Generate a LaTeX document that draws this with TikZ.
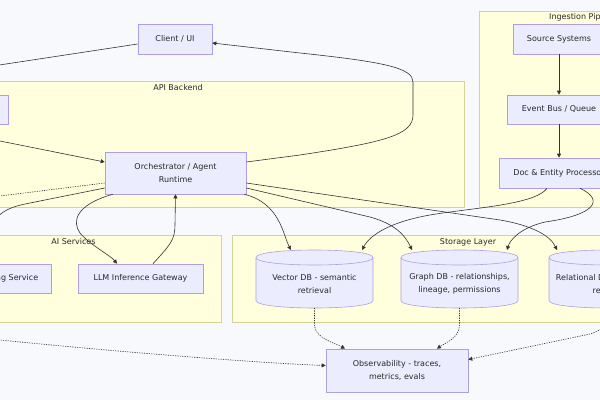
\documentclass[tikz,border=0pt]{standalone}
\usepackage{fontspec}
\setmainfont{DejaVu Sans}
\usetikzlibrary{arrows.meta,calc}
\definecolor{bg}{RGB}{248,249,252}
\definecolor{clfill}{RGB}{255,255,222}
\definecolor{clline}{RGB}{212,212,150}
\definecolor{ndfill}{RGB}{236,236,255}
\definecolor{ndline}{RGB}{175,158,228}
\definecolor{ln}{RGB}{51,51,51}
\definecolor{tx}{RGB}{40,40,40}
\newcommand\mycyl[4]{%
  \draw[cylbody] (#1,#3+7.5) -- (#1,#4-7.5) .. controls (#1,#4+2.5) and (#2,#4+2.5) .. (#2,#4-7.5)
    -- (#2,#3+7.5) .. controls (#2,#3-2.5) and (#1,#3-2.5) .. (#1,#3+7.5) -- cycle;
  \draw[cylrim] (#1,#3+7.5) .. controls (#1,#3+17.5) and (#2,#3+17.5) .. (#2,#3+7.5);}
\begin{document}
\begin{tikzpicture}[x=1pt,y=-1pt,
  cluster/.style={fill=clfill,draw=clline,line width=0.6pt},
  cllabel/.style={text=tx,font=\fontsize{8}{10}\selectfont,inner sep=0pt},
  box/.style={rectangle,fill=ndfill,draw=ndline,line width=0.6pt,text=tx,align=center,
    font=\fontsize{8}{13}\selectfont,inner sep=0pt},
  cyltext/.style={text=tx,align=center,font=\fontsize{8}{13}\selectfont,inner sep=0pt},
  cylbody/.style={fill=ndfill,draw=ndline,line width=0.6pt},
  cylrim/.style={draw=ndline,line width=0.6pt},
  conn/.style={draw=ln,line width=0.6pt,-{Triangle[length=4pt,width=4pt]}},
  dotconn/.style={conn,dash pattern=on 1.2pt off 1.2pt}]
\useasboundingbox (0,0) rectangle (600,400);
\fill[bg] (0,0) rectangle (600,400);
\clip (0,0) rectangle (600,400);
% clusters
\draw[cluster] (-110,81) rectangle (464,207);
\draw[cluster] (479,11) rectangle (690,207);
\draw[cluster] (-80,235) rectangle (221,322);
\draw[cluster] (232,235) rectangle (720,322);
\node[cllabel] (lapi) at (178,88) {API Backend};
\node[cllabel,anchor=west] (ling) at (549,17.5) {Ingestion Pipeline};
\node[cllabel] (lai) at (73.5,242) {AI Services};
\node[cllabel] (lst) at (468,242) {Storage Layer};
% nodes
\node[box,minimum width=74pt,minimum height=30pt] (client) at (175,39) {Client / UI};
\node[box,minimum width=76pt,minimum height=29pt] (apigw) at (-30,109.5) {};
\node[box,minimum width=141pt,minimum height=42pt] (orch) at (175.5,173) {Orchestrator / Agent\\Runtime};
\node[box,minimum width=92pt,minimum height=30pt] (src) at (559,39) {Source Systems};
\node[box,minimum width=104pt,minimum height=29pt] (bus) at (559,109.5) {Event Bus / Queue};
\node[box,minimum width=120pt,minimum height=30pt] (doc) at (559,173) {Doc \& Entity Processor};
\node[box,minimum width=103pt,minimum height=29pt] (emb) at (-0.5,278.5) {Embedding Service};
\node[box,minimum width=125pt,minimum height=29pt] (llm) at (140.5,278.5) {LLM Inference Gateway};
\mycyl{256}{373}{250}{308}
\node[cyltext] (vdb) at (314.5,284) {Vector DB - semantic\\retrieval};
\mycyl{401}{518}{250}{308}
\node[cyltext] (gdb) at (459.5,284) {Graph DB - relationships,\\lineage, permissions};
\mycyl{549}{666}{250}{308}
\node[cyltext] (rdb) at (607.5,284) {Relational DB - metadata,\\records};
\node[box,minimum width=142pt,minimum height=43pt] (obs) at (397,370.5) {Observability - traces,\\metrics, evals};
\coordinate (clout) at (-60,74);
\coordinate (gwout) at (-40,133);
% connectors
\draw[conn] ([yshift=-5pt]client.west) -- (clout);
\draw[conn] (gwout) -- ([yshift=11pt]orch.west);
\draw[conn] ([yshift=11pt]orch.east) -- (300,155) .. controls (385,142) and (413,135) .. (413,115)
  -- (413,82) .. controls (413,68) and (385,62) .. (300,53) -- ([yshift=-4pt]client.east);
\draw[conn] ([yshift=-10pt]orch.east) -- (500,220) .. controls (530,225) and (550,235) .. ($(rdb)+(-50.5,-34)$);
\draw[conn] ([yshift=-15pt]orch.east) -- (370,217) .. controls (395,224) and (405,235) .. ($(gdb)+(-47.5,-34)$);
\draw[conn] ([xshift=-2pt]orch.south east) .. controls (280,203) and (283,235) .. ($(vdb)+(-23.5,-34)$);
\draw[conn] ([xshift=8pt]orch.south west) .. controls (75,205) and (72,222) .. (80,233)
  .. controls (90,245) and (110,255) .. ([xshift=-23.5pt]llm.north);
\draw[conn] ([xshift=12.5pt]llm.north) .. controls (170,245) and (175,240) .. (175,225) -- (orch.south);
\draw[conn] ([yshift=-15pt]orch.west) -- (30,203) .. controls (10,207) and (2,210) .. (-10,225) -- ([xshift=-20pt]emb.north);
\draw[dotconn] ([yshift=-10pt]orch.west) -- (0,196) .. controls (-80,206) and (-80,330) .. (0,340)
  .. controls (150,355) and (280,364) .. ([yshift=5pt]obs.west);
\draw[dotconn] ($(vdb)+(0,24)$) -- (314.5,325) .. controls (314.5,338) and (335,343) .. ([xshift=-52pt]obs.north);
\draw[dotconn] ($(gdb)+(0,24)$) -- (459.5,325) .. controls (459.5,338) and (445,343) .. ([xshift=40pt]obs.north);
\draw[dotconn] ($(rdb)+(2,26)$) .. controls (609,322) and (604,330) .. (590,334) -- ([yshift=11pt]obs.east);
\draw[conn] (src) -- (bus);
\draw[conn] (bus) -- (doc);
\draw[conn] ([xshift=-12pt]doc.south) .. controls (535,205) and (470,208) .. (430,215)
  .. controls (390,222) and (370,235) .. ($(vdb)+(47.5,-34)$);
\draw[conn] ([xshift=21pt]doc.south) .. controls (605,200) and (595,215) .. (545,222)
  .. controls (520,228) and (510,240) .. ($(gdb)+(47.5,-34)$);
\end{tikzpicture}
\end{document}
